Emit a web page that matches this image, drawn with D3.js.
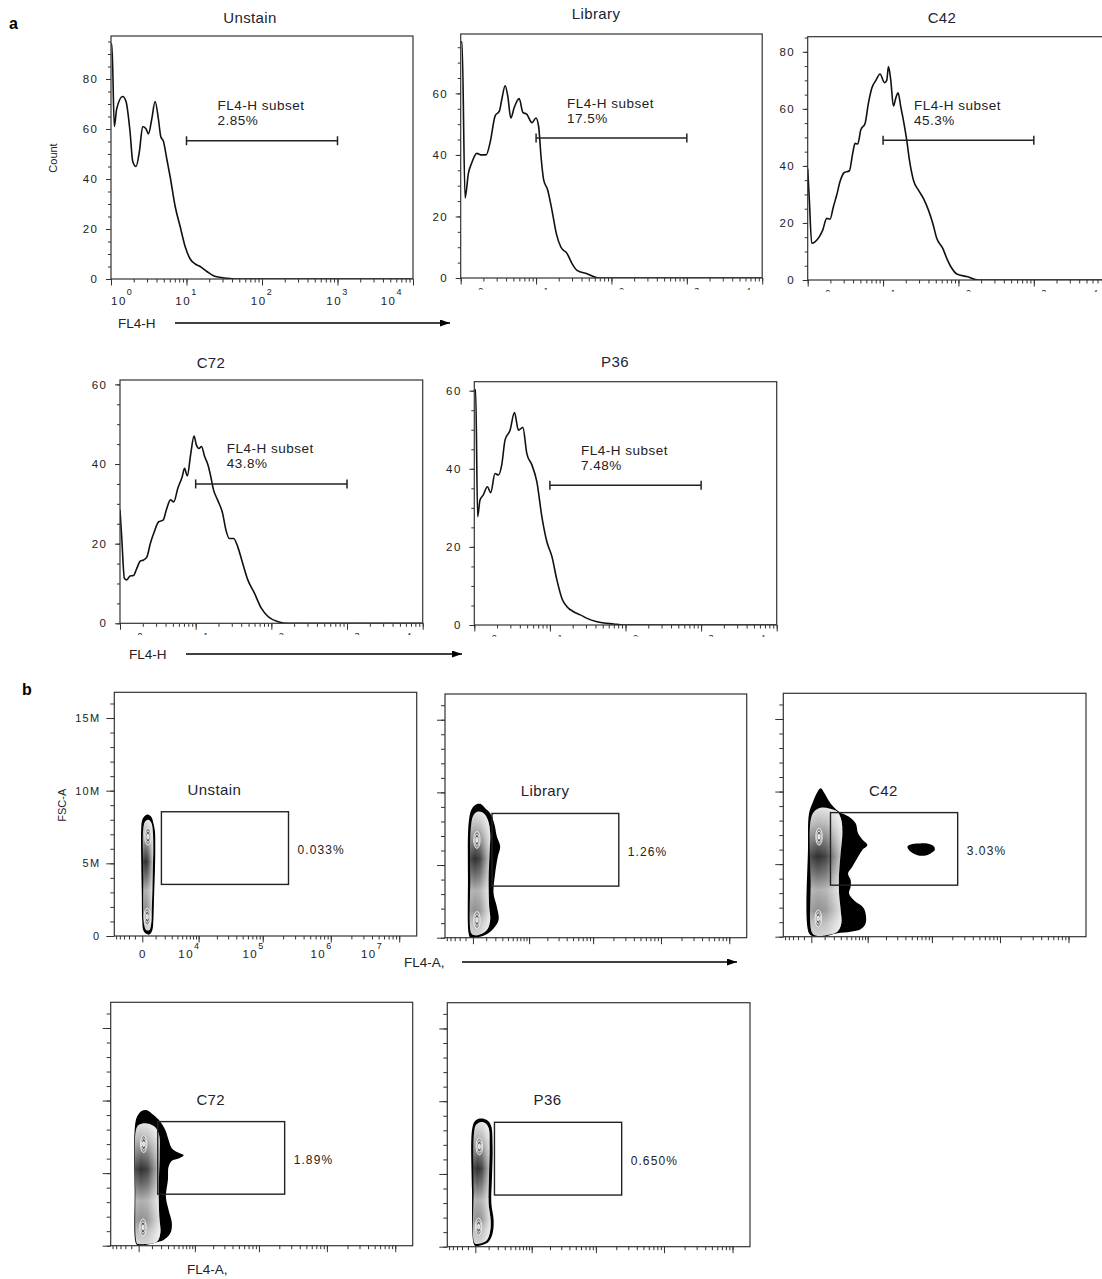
<!DOCTYPE html>
<html>
<head>
<meta charset="utf-8">
<script src="https://cdn.jsdelivr.net/npm/d3@7"></script>
<style>
  body { margin: 0; background: #fff; }
  svg { display: block; }
  text { font-family: "Liberation Sans", Arial, sans-serif; fill: #222; }
  .title { font-size: 15px; letter-spacing: .4px; fill: #1d2330; }
  .tick text { font-size: 11.5px; letter-spacing: 1.5px; fill: #222; font-family: "Liberation Sans", Arial, sans-serif; }
  .gate-lbl { font-size: 13.5px; letter-spacing: .5px; }
  .pct { font-size: 12px; letter-spacing: 1.1px; }
  .axis-name { font-size: 13.5px; }
  .small-name { font-size: 11px; }
  .panel-tag { font-size: 16px; font-weight: bold; fill: #000; }
</style>
</head>
<body>
<svg id="fig" width="1102" height="1279"></svg>
<script>
// ---------- panel a: FL4-H histograms ----------
const histNames = ["Unstain", "Library", "C42", "C72", "P36"];
const histPcts = ["2.85%", "17.5%", "45.3%", "43.8%", "7.48%"];
const histYMax = [97.2, 79.3, 85.3, 61.1, 62.3];
const histYTicks = [[0, 20, 40, 60, 80], [0, 20, 40, 60], [0, 20, 40, 60, 80], [0, 20, 40, 60], [0, 20, 40, 60]];
const histGateCount = [55.3, 45.5, 49, 35, 35.8];
const fl4hDomain = [1, 1e4];
const fl4hGate = [10, 1000];

// [log10(FL4-H), count]
const histUnstain = [[0,94],[0.012,94],[0.044,61],[0.075,68],[0.155,73],[0.199,71],[0.252,59],[0.288,47],[0.332,45],[0.376,51],[0.42,61],[0.465,60],[0.496,58],[0.54,64],[0.584,71],[0.628,64],[0.659,57],[0.695,55],[0.739,48],[0.783,41],[0.85,29],[0.916,21],[0.982,13],[1.049,8],[1.115,6],[1.181,5],[1.27,3],[1.358,1.3],[1.535,0.3],[1.65,0],[4,0]];
const histLibrary = [[0,76.7],[0.018,76.7],[0.058,26],[0.102,34],[0.146,37.4],[0.213,40.5],[0.279,40],[0.337,40],[0.39,44],[0.457,52.7],[0.514,54.3],[0.545,58],[0.59,62.5],[0.625,59],[0.665,52],[0.71,55.4],[0.776,58.3],[0.825,53.8],[0.878,53.2],[0.945,50.5],[0.998,52],[1.033,49.4],[1.069,38.5],[1.1,32],[1.153,28.7],[1.211,22],[1.268,14.5],[1.33,10],[1.41,8],[1.477,4.7],[1.543,2.5],[1.676,1.4],[1.831,0],[4,0]];
const histC42 = [[0,39],[0.022,28],[0.053,12.9],[0.097,13.4],[0.155,15.2],[0.199,17.5],[0.252,21.6],[0.296,21.3],[0.341,25.7],[0.385,29.8],[0.429,34.5],[0.482,37.6],[0.553,38.3],[0.597,44.4],[0.628,47.9],[0.664,47.7],[0.704,52.6],[0.761,54.9],[0.805,61.9],[0.85,67.2],[0.907,70.1],[0.96,72.2],[1.018,69.2],[1.049,70],[1.071,74.8],[1.102,70.1],[1.137,61],[1.173,64.2],[1.199,65.6],[1.235,60.7],[1.27,56],[1.314,49],[1.35,42],[1.403,35],[1.469,31.5],[1.535,28.6],[1.602,24.5],[1.659,19.9],[1.712,14.6],[1.792,11.1],[1.845,7.6],[1.912,4.1],[1.978,2.1],[2.111,1.2],[2.265,0],[4,0]];
const histC72 = [[0,28.5],[0.022,21.8],[0.058,11.3],[0.089,10.9],[0.133,11.9],[0.178,12],[0.222,13.8],[0.267,15.6],[0.311,15.9],[0.356,16.7],[0.4,20],[0.453,23],[0.511,25.5],[0.569,25.9],[0.613,28.5],[0.667,31],[0.711,30.5],[0.764,33.9],[0.822,36.8],[0.853,38.9],[0.889,37],[0.933,42.3],[0.978,47],[1.009,44.8],[1.044,43.9],[1.076,44.4],[1.12,41.8],[1.164,39.7],[1.2,36.8],[1.236,33.5],[1.289,31],[1.356,27.6],[1.4,23.4],[1.444,21.3],[1.502,21.3],[1.556,19.2],[1.622,15],[1.689,10.9],[1.778,7.5],[1.867,3.8],[1.956,1.7],[2.089,0.4],[2.222,0],[4,0]];
const histP36 = [[0,60.2],[0.018,60.2],[0.044,27.7],[0.075,32],[0.119,33.3],[0.173,35.4],[0.217,33.9],[0.274,38.8],[0.319,38.4],[0.363,41],[0.407,47.4],[0.473,49.9],[0.531,54.4],[0.584,49.9],[0.642,50.6],[0.695,43.9],[0.761,41],[0.827,36.7],[0.894,27.7],[0.96,21.3],[1.027,17.5],[1.093,11.5],[1.159,6.8],[1.226,4.7],[1.314,3.4],[1.403,2.6],[1.491,1.7],[1.624,0.85],[1.845,0.25],[1.978,0],[4,0]];

// ---------- panel b: FSC-A vs FL4-A density plots ----------
const dotNames = ["Unstain", "Library", "C42", "C72", "P36"];
const dotPcts = ["0.033%", "1.26%", "3.03%", "1.89%", "0.650%"];
const fl4aDomain = [-2770, 1.8e7];
const fscDomain = [0, 16.77];          // millions
const fscMajor = [0, 5, 10, 15];
const dotGateFL4A = [1600, 2.4e5];
const dotGateFSC = [3.55, 8.55];

// [FL4-A, FSC-A (M)] outlines of the density contours
const unstainOuter = [[-61,7.5],[0,8.0],[188,8.3],[396,8.35],[626,8.2],[793,7.8],[940,7.2],[971,6.0],[940,4.5],[881,3.2],[837,2.0],[793,1.0],[709,0.4],[470,0.1],[256,0.15],[61,0.4],[0,1.0],[-30,3],[-61,5]];
const unstainInner = [[61,7.4],[188,7.9],[396,8.0],[626,7.8],[750,7.2],[793,6.0],[750,4.5],[709,3.0],[667,1.8],[626,0.9],[470,0.4],[256,0.4],[123,0.7],[61,1.5],[61,4]];
const unstainSpots = [[371,6.84],[324,1.33]];
const libraryOuter = [[-276,0.3],[-324,3.97],[-276,7.87],[-104,8.79],[143,9.14],[493,9.21],[908,8.91],[1398,8.56],[1855,7.87],[2199,6.96],[2666,6.27],[2335,5.58],[1979,4.43],[1782,3.05],[2199,2.13],[2433,1.22],[1782,0.64],[908,0.18],[143,0],[-168,0]];
const libraryInner = [[-104,0.3],[-168,3.97],[-123,7.64],[42,8.45],[374,8.68],[768,8.56],[1162,8.1],[1398,7.19],[1335,5.81],[1232,3.97],[1293,2.13],[1398,1.22],[1066,0.53],[374,0.18],[42,0.18]];
const librarySpots = [[256,6.73],[256,1.22]];
const c42Outer = [[-143,0.23],[-208,6.2],[-143,8.49],[61,9.18],[346,9.87],[651,10.22],[999,9.87],[1619,9.18],[2726,8.61],[4523,8.26],[6087,7.81],[6748,7.12],[8071,6.7],[9872,6.31],[8071,5.97],[6748,5.51],[5261,4.82],[4315,4.36],[4871,3.9],[4871,3.44],[4523,2.98],[6087,2.41],[7525,2.18],[8863,1.84],[9227,0.92],[7525,0.51],[4871,0.34],[2476,0.23],[944,0],[168,0]];
const c42Inner = [[61,0.23],[-42,3.9],[-42,8.03],[168,8.61],[651,8.88],[1441,8.84],[2476,8.61],[3087,8.03],[3254,7.12],[2975,5.74],[2726,4.36],[2726,2.98],[2975,1.84],[3087,0.92],[2476,0.34],[1263,0.11],[396,0.05]];
const c42Spots = [[524,6.89],[470,1.26]];
const c42Cluster = [[42900,6.2],[51070,6.38],[68080,6.43],[90960,6.38],[107800,6.2],[110100,5.97],[95920,5.74],[76590,5.58],[60810,5.62],[48230,5.85]];
const c72Outer = [[-168,0.16],[-256,3.83],[-256,7.97],[-104,8.88],[208,9.3],[571,9.34],[1162,9.0],[1904,8.54],[2577,7.97],[3087,7.28],[3658,6.7],[5030,6.4],[6275,6.24],[5030,6.01],[3658,5.85],[3087,5.44],[2975,4.52],[2666,3.37],[3087,2.46],[3658,1.54],[3373,0.85],[2335,0.39],[1335,0.21],[448,0.05],[0,0]];
const c72Inner = [[-104,0.16],[-208,3.83],[-168,7.97],[0,8.31],[448,8.43],[1162,8.24],[1699,7.74],[1819,6.13],[1699,3.83],[1782,2.0],[1904,0.85],[1507,0.28],[448,0.11],[0,0.11]];
const c72Spots = [[324,7.0],[276,1.26]];
const p36Outer = [[-104,0.23],[-208,3.9],[-208,8.03],[-42,8.61],[208,8.79],[571,8.79],[999,8.61],[1263,8.26],[1398,6.89],[1335,4.82],[1263,2.98],[1507,1.84],[1398,0.92],[999,0.34],[448,0.11],[0,0.05]];
const p36Inner = [[-42,0.23],[-104,3.9],[-79,7.81],[42,8.38],[324,8.56],[709,8.49],[999,8.15],[1094,6.89],[1037,4.82],[999,2.98],[1192,1.84],[1133,1.03],[854,0.46],[396,0.23],[104,0.18]];
const p36Spots = [[256,6.89],[208,1.38]];

// ---------- layout ----------
const histLayout = [
  { x: 111,   y: 36,    w: 302,   h: 243,   tx: 250, ty: 23,  labels: true },
  { x: 460.7, y: 34,    w: 301.5, h: 244,   tx: 596, ty: 19 },
  { x: 807.7, y: 36.7,  w: 301.5, h: 243.3, tx: 942, ty: 23 },
  { x: 120,   y: 380,   w: 302.7, h: 243.3, tx: 211, ty: 368 },
  { x: 474.3, y: 381.7, w: 302.4, h: 243.3, tx: 615, ty: 367 }
];
const dotLayout = [
  { x: 114.3, y: 692.3,  w: 302.4, h: 243.7, labels: true },
  { x: 445,   y: 694,    w: 301.7, h: 243.7 },
  { x: 783.3, y: 693.3,  w: 302.7, h: 243.4 },
  { x: 110.7, y: 1002.3, w: 302,   h: 243.4 },
  { x: 447.3, y: 1002.7, w: 302.7, h: 244 }
];
const histData = [histUnstain, histLibrary, histC42, histC72, histP36];
const blobs = [
  { outer: unstainOuter, inner: unstainInner, spots: unstainSpots },
  { outer: libraryOuter, inner: libraryInner, spots: librarySpots },
  { outer: c42Outer, inner: c42Inner, spots: c42Spots, extra: c42Cluster },
  { outer: c72Outer, inner: c72Inner, spots: c72Spots },
  { outer: p36Outer, inner: p36Inner, spots: p36Spots }
];

const svg = d3.select("#fig");
const defs = svg.append("defs");

defs.append("marker").attr("id", "arrow")
  .attr("viewBox", "0 0 10 7").attr("refX", 10).attr("refY", 3.5)
  .attr("markerWidth", 11).attr("markerHeight", 7).attr("markerUnits", "userSpaceOnUse")
  .attr("orient", "auto")
  .append("path").attr("d", "M0,0L10,3.5L0,7Z").attr("fill", "#000");

const gv = defs.append("linearGradient").attr("id", "densV").attr("x1", 0).attr("y1", 0).attr("x2", 0).attr("y2", 1);
[[0, "#e4e4e4"], [0.12, "#b8b8b8"], [0.24, "#7c7c7c"], [0.38, "#303030"], [0.5, "#666"], [0.64, "#b0b0b0"], [0.8, "#909090"], [0.9, "#bdbdbd"], [1, "#d4d4d4"]]
  .forEach(([o, c]) => gv.append("stop").attr("offset", o).attr("stop-color", c));
const gh = defs.append("linearGradient").attr("id", "densH").attr("x1", 0).attr("y1", 0).attr("x2", 1).attr("y2", 0);
[[0, 0.15], [0.25, 0], [0.5, 0.1], [1, 0.8]]
  .forEach(([o, a]) => gh.append("stop").attr("offset", o).attr("stop-color", "#fff").attr("stop-opacity", a));

function styleAxis(sel) {
  sel.select(".domain").remove();
  sel.selectAll(".tick line").attr("stroke", "#333").attr("stroke-width", 1);
}

function isDecade(v) {
  const l = Math.log10(Math.abs(v));
  return Math.abs(l - Math.round(l)) < 1e-9;
}

function powLabel(g, x, y, exp, anchor, dx, supDy) {
  const t = g.append("text").attr("x", x).attr("y", y).attr("dx", dx)
    .attr("text-anchor", anchor).style("font-size", "11.5px").style("letter-spacing", "1.5px");
  t.append("tspan").text("10");
  t.append("tspan").attr("dy", supDy).style("font-size", "9px").text(exp);
}

// ---------- draw histograms ----------
histLayout.forEach((L, i) => {
  const g = svg.append("g");
  const x = d3.scaleLog().domain(fl4hDomain).range([L.x, L.x + L.w]);
  const y = d3.scaleLinear().domain([0, histYMax[i]]).range([L.y + L.h, L.y]);
  const bottom = L.y + L.h;

  defs.append("clipPath").attr("id", "hc" + i).append("rect")
    .attr("x", L.x).attr("y", L.y).attr("width", L.w).attr("height", L.h);

  g.append("path").datum(histData[i])
    .attr("clip-path", `url(#hc${i})`)
    .attr("fill", "none").attr("stroke", "#111").attr("stroke-width", 1.6).attr("stroke-linejoin", "round")
    .attr("d", d3.line().x(d => x(10 ** d[0])).y(d => y(d[1])).curve(d3.curveMonotoneX));

  g.append("rect").attr("x", L.x).attr("y", L.y).attr("width", L.w).attr("height", L.h)
    .attr("fill", "none").attr("stroke", "#333").attr("stroke-width", 1.2);

  // y axis
  g.append("g").attr("transform", `translate(${L.x},0)`)
    .call(d3.axisLeft(y).tickValues(d3.range(0, histYMax[i], 5)).tickSize(3).tickFormat(""))
    .call(styleAxis);
  g.append("g").attr("transform", `translate(${L.x},0)`)
    .call(d3.axisLeft(y).tickValues(histYTicks[i]).tickSize(5).tickPadding(7.5))
    .call(styleAxis);

  // x axis
  const all = x.ticks();
  const major = all.filter(isDecade);
  g.append("g").attr("transform", `translate(0,${bottom})`)
    .call(d3.axisBottom(x).tickValues(all).tickSize(3.5).tickFormat(""))
    .call(styleAxis);
  g.append("g").attr("transform", `translate(0,${bottom})`)
    .call(d3.axisBottom(x).tickValues(major).tickSize(6.5).tickFormat(""))
    .call(styleAxis);

  if (L.labels) {
    major.forEach((v, k) => {
      const last = k === major.length - 1;
      const anchor = k === 0 ? "start" : last ? "end" : "middle";
      powLabel(g, x(v), bottom + 26, Math.round(Math.log10(v)), anchor, last ? -10 : 0, -10);
    });
  } else {
    // only the top few pixels of the exponent labels survive in the source figure
    defs.append("clipPath").attr("id", "hl" + i).append("rect")
      .attr("x", L.x - 20).attr("y", bottom + 8.5).attr("width", L.w + 40).attr("height", 3.2);
    const lg = g.append("g").attr("clip-path", `url(#hl${i})`);
    major.forEach((v, k) => {
      const shift = k === 0 ? 20 : k === major.length - 1 ? -14 : 10;
      lg.append("text").attr("x", x(v) + shift).attr("y", bottom + 15.5)
        .attr("text-anchor", "middle").style("font-size", "9px")
        .text(Math.round(Math.log10(v)));
    });
  }

  // title
  g.append("text").attr("class", "title").attr("x", L.tx).attr("y", L.ty)
    .attr("text-anchor", "middle").text(histNames[i]);

  // gate bar
  const gy = y(histGateCount[i]);
  const gx0 = x(fl4hGate[0]), gx1 = x(fl4hGate[1]);
  const gate = g.append("g").attr("stroke", "#222").attr("stroke-width", 1.5);
  gate.append("line").attr("x1", gx0).attr("x2", gx1).attr("y1", gy).attr("y2", gy);
  [gx0, gx1].forEach(px => gate.append("line").attr("x1", px).attr("x2", px).attr("y1", gy - 4.5).attr("y2", gy + 4.5));
  g.append("text").attr("class", "gate-lbl").attr("x", gx0 + 31).attr("y", gy - 30.5).text("FL4-H subset");
  g.append("text").attr("class", "gate-lbl").attr("x", gx0 + 31).attr("y", gy - 15.5).text(histPcts[i]);
});

// ---------- draw density plots ----------
dotLayout.forEach((L, i) => {
  const g = svg.append("g");
  const x = d3.scaleSymlog().constant(1773).domain(fl4aDomain).range([L.x, L.x + L.w]);
  const y = d3.scaleLinear().domain(fscDomain).range([L.y + L.h, L.y]);
  const bottom = L.y + L.h;
  const B = blobs[i];

  defs.append("clipPath").attr("id", "dc" + i).append("rect")
    .attr("x", L.x).attr("y", L.y).attr("width", L.w).attr("height", L.h);

  const shape = d3.line().x(d => x(d[0])).y(d => y(d[1])).curve(d3.curveCatmullRomClosed.alpha(0.5));
  const dg = g.append("g").attr("clip-path", `url(#dc${i})`);
  dg.append("path").attr("d", shape(B.outer)).attr("fill", "#000");
  dg.append("path").attr("d", shape(B.inner)).attr("fill", "url(#densV)");
  dg.append("path").attr("d", shape(B.inner)).attr("fill", "url(#densH)");
  B.spots.forEach(s => {
    const cx = x(s[0]), cy = y(s[1]);
    [[3.2, 8.5, "#8c8c8c"], [2.2, 5.5, "#5a5a5a"], [1.1, 2.6, "#d8d8d8"]].forEach(([rx, ry, f]) =>
      dg.append("ellipse").attr("cx", cx).attr("cy", cy).attr("rx", rx).attr("ry", ry)
        .attr("fill", f).attr("stroke", "#fff").attr("stroke-width", 0.8));
  });
  if (B.extra) dg.append("path").attr("d", shape(B.extra)).attr("fill", "#000");

  // gate
  const rx0 = x(dotGateFL4A[0]), rx1 = x(dotGateFL4A[1]);
  const ry0 = y(dotGateFSC[1]), ry1 = y(dotGateFSC[0]);
  g.append("rect").attr("x", rx0).attr("y", ry0).attr("width", rx1 - rx0).attr("height", ry1 - ry0)
    .attr("fill", "none").attr("stroke", "#222").attr("stroke-width", 1.4);
  g.append("text").attr("class", "title").attr("x", rx0 + 53).attr("y", ry0 - 17)
    .attr("text-anchor", "middle").text(dotNames[i]);
  g.append("text").attr("class", "pct").attr("x", rx1 + 9).attr("y", (ry0 + ry1) / 2 + 6).text(dotPcts[i]);

  g.append("rect").attr("x", L.x).attr("y", L.y).attr("width", L.w).attr("height", L.h)
    .attr("fill", "none").attr("stroke", "#333").attr("stroke-width", 1.2);

  // y axis
  g.append("g").attr("transform", `translate(${L.x},0)`)
    .call(d3.axisLeft(y).tickValues(d3.range(0, fscDomain[1], 1)).tickSize(4).tickFormat(""))
    .call(styleAxis);
  const yMaj = g.append("g").attr("transform", `translate(${L.x},0)`)
    .call(d3.axisLeft(y).tickValues(fscMajor).tickSize(8).tickPadding(6)
      .tickFormat(d => L.labels ? (d === 0 ? "0" : d + "M") : ""))
    .call(styleAxis);
  yMaj.selectAll(".tick text").style("font-size", "11px").style("letter-spacing", "1.2px");

  // x axis (biexponential-like display)
  const minor = [-2500, -2000, -1500, -1000, -500];
  for (let n = 3; n <= 7; n++) for (let k = 1; k <= 9; k++) {
    const v = k * 10 ** n;
    if (v < fl4aDomain[1]) minor.push(v);
  }
  const major = [0, 1e4, 1e5, 1e6, 1e7];
  g.append("g").attr("transform", `translate(0,${bottom})`)
    .call(d3.axisBottom(x).tickValues(minor).tickSize(3.5).tickFormat(""))
    .call(styleAxis);
  g.append("g").attr("transform", `translate(0,${bottom})`)
    .call(d3.axisBottom(x).tickValues(major).tickSize(6.5).tickFormat(""))
    .call(styleAxis);

  if (L.labels) {
    g.append("text").attr("x", x(0)).attr("y", bottom + 22).attr("text-anchor", "middle")
      .style("font-size", "11.5px").text("0");
    major.slice(1).forEach((v, k) =>
      powLabel(g, x(v) + 2, bottom + 22, Math.round(Math.log10(v)), "end", k === 3 ? -18 : 0, -9));
    g.append("text").attr("class", "small-name")
      .attr("transform", `translate(${L.x - 48},${y(9)}) rotate(-90)`)
      .attr("text-anchor", "middle").text("FSC-A");
  }
});

// ---------- axis names, arrows, panel tags ----------
function axisArrow(label, lx, ly, ax0, ax1) {
  svg.append("text").attr("class", "axis-name").attr("x", lx).attr("y", ly + 5).text(label);
  svg.append("line").attr("x1", ax0).attr("x2", ax1 - 1).attr("y1", ly).attr("y2", ly)
    .attr("stroke", "#000").attr("stroke-width", 1.3).attr("marker-end", "url(#arrow)");
}
axisArrow("FL4-H", 118, 323, 175, 451);
axisArrow("FL4-H", 129, 654, 186, 463);
axisArrow("FL4-A,", 404, 962, 462, 738);
svg.append("text").attr("class", "axis-name").attr("x", 187).attr("y", 1274).text("FL4-A,");

svg.append("text").attr("class", "small-name")
  .attr("transform", "translate(57,158) rotate(-90)").attr("text-anchor", "middle").text("Count");

svg.append("text").attr("class", "panel-tag").attr("x", 9).attr("y", 29).text("a");
svg.append("text").attr("class", "panel-tag").attr("x", 22).attr("y", 695).text("b");
</script>
</body>
</html>
